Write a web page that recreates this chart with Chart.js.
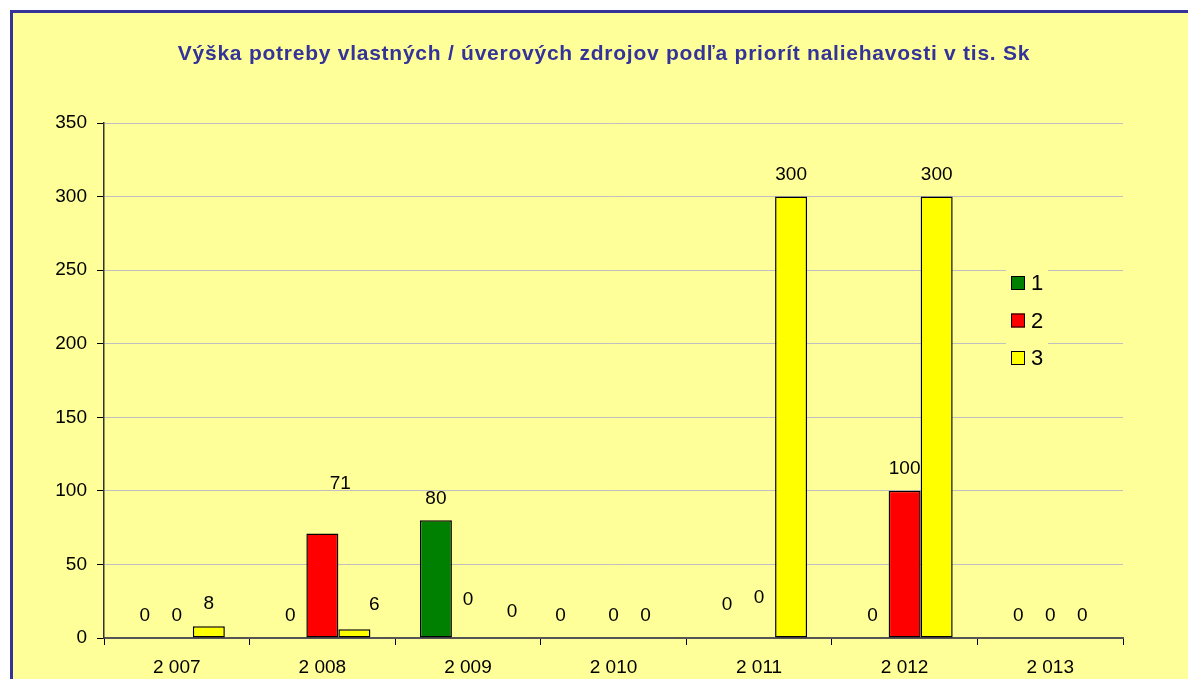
<!DOCTYPE html>
<html>
<head>
<meta charset="utf-8">
<script src="https://cdn.jsdelivr.net/npm/chart.js@4"></script>
<style>
  html, body { margin: 0; padding: 0; background: #ffffff; overflow: hidden; }
  #frame {
    position: absolute; left: 10px; top: 10px; width: 1200px; height: 700px;
    background: #FFFF99; border-left: 3px solid #333399; border-top: 3px solid #333399;
  }
  #chart { position: absolute; left: 0; top: 0; }
</style>
</head>
<body>
<div id="frame"></div>
<canvas id="chart" width="1188" height="679"></canvas>
<script>
var years = ['2 007', '2 008', '2 009', '2 010', '2 011', '2 012', '2 013'];
var series1 = [0, 0, 80, 0, 0, 0, 0];
var series2 = [0, 71, 0, 0, 0, 100, 0];
var series3 = [8, 6, 0, 0, 300, 300, 0];
var seriesNames = ['1', '2', '3'];
var yTicks = [0, 50, 100, 150, 200, 250, 300, 350];

var titleText = 'Výška potreby vlastných / úverových zdrojov podľa priorít naliehavosti v tis. Sk';
var colors = ['#008000', '#FF0000', '#FFFF00'];
var font = '"Liberation Sans", Arial, sans-serif';

// label nudges (moved by hand in the original): key "dataset-index" -> [dx, dy]
var nudge = {
  '1-1': [18, -28], '2-1': [20, -2],
  '1-2': [0, -16], '2-2': [12, -4],
  '0-3': [-21, 0],
  '0-4': [0, -11], '1-4': [0, -18]
};

var extras = {
  id: 'extras',
  afterDatasetsDraw: function(chart) {
    var ctx = chart.ctx;
    ctx.save();
    ctx.font = '19px ' + font;
    ctx.fillStyle = '#000';
    ctx.textAlign = 'center';
    ctx.textBaseline = 'middle';
    chart.data.datasets.forEach(function(ds, d) {
      chart.getDatasetMeta(d).data.forEach(function(bar, i) {
        var n = nudge[d + '-' + i] || [0, 0];
        ctx.fillText(String(ds.data[i]), bar.x + n[0], bar.y - 22 + n[1]);
      });
    });
    ctx.restore();
  },
  afterDraw: function(chart) {
    var ctx = chart.ctx;
    ctx.save();
    // title
    ctx.font = 'bold 21px ' + font;
    ctx.letterSpacing = '0.75px';
    ctx.fillStyle = '#333399';
    ctx.textAlign = 'center';
    ctx.textBaseline = 'middle';
    ctx.fillText(titleText, 604, 54);
    ctx.letterSpacing = '0px';
    // legend
    ctx.fillStyle = '#FFFF99';
    ctx.fillRect(1006, 262, 42, 110);
    ctx.textAlign = 'left';
    ctx.font = '22px ' + font;
    seriesNames.forEach(function(name, k) {
      var y = 276 + k * 37.5;
      ctx.fillStyle = colors[k];
      ctx.fillRect(1011, y, 14, 14);
      ctx.strokeStyle = '#000';
      ctx.lineWidth = 1;
      ctx.strokeRect(1011.5, y + 0.5, 13, 13);
      ctx.fillStyle = '#000';
      ctx.fillText(name, 1031, y + 8);
    });
    ctx.restore();
  }
};

new Chart(document.getElementById('chart').getContext('2d'), {
  type: 'bar',
  data: {
    labels: years,
    datasets: [series1, series2, series3].map(function(vals, k) {
      return {
        label: seriesNames[k],
        data: vals,
        backgroundColor: colors[k],
        borderColor: '#000',
        borderWidth: 1.5,
        borderSkipped: false,
        categoryPercentage: 0.66,
        barPercentage: 1.0
      };
    })
  },
  options: {
    responsive: false,
    animation: false,
    layout: { padding: { top: 123, left: 0, right: 65, bottom: 0 } },
    plugins: { legend: { display: false }, title: { display: false }, tooltip: { enabled: false } },
    scales: {
      x: {
        grid: { drawOnChartArea: false, tickLength: 7, tickColor: '#000', offset: true },
        border: { color: '#555', width: 2 },
        ticks: { color: '#000', font: { family: font, size: 19 }, padding: 11, maxRotation: 0 },
        afterFit: function(s) { s.height = 41; }
      },
      y: {
        min: 0, max: 350,
        afterBuildTicks: function(s) { s.ticks = yTicks.map(function(v) { return { value: v }; }); },
        grid: { color: '#c0c0c0', lineWidth: 1, tickLength: 7, tickColor: '#000' },
        border: { color: '#333', width: 1.5 },
        ticks: { color: '#000', font: { family: font, size: 19 }, padding: 10 },
        afterFit: function(s) { s.width = 104; }
      }
    }
  },
  plugins: [extras]
});
</script>
</body>
</html>
